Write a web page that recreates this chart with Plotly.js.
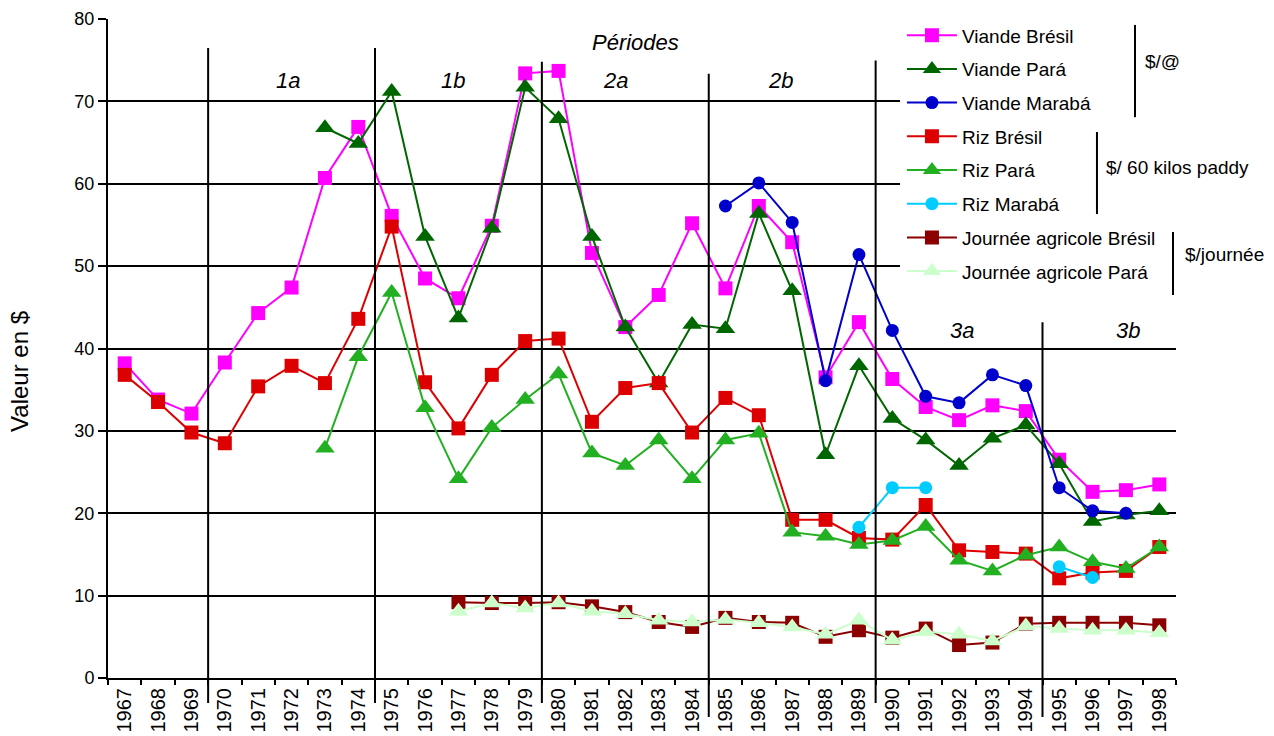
<!DOCTYPE html>
<html>
<head>
<meta charset="utf-8">
<script src="https://cdn.plot.ly/plotly-3.0.1.min.js"></script>
<style>html,body{margin:0;padding:0;background:#fff;}#chart{width:1274px;height:736px;}</style>
</head>
<body>
<div id="chart"></div>
<script>
const years = ['1967','1968','1969','1970','1971','1972','1973','1974','1975','1976','1977','1978','1979','1980','1981','1982','1983','1984','1985','1986','1987','1988','1989','1990','1991','1992','1993','1994','1995','1996','1997','1998'];

const viandeBresil = [38.2,33.8,32.1,38.3,44.3,47.4,60.7,66.9,56.1,48.5,46.1,54.9,73.4,73.7,51.6,42.6,46.5,55.2,47.3,57.3,52.9,36.5,43.2,36.3,32.9,31.3,33.1,32.4,26.5,22.6,22.8,23.5];
const viandePara = [null,null,null,null,null,null,66.8,64.9,71.2,53.6,43.7,54.6,71.7,67.9,53.6,42.6,35.8,42.9,42.4,56.4,47.0,27.1,37.9,31.5,28.9,25.8,29.1,30.7,26.0,19.0,19.8,20.3];
const viandeMaraba = [null,null,null,null,null,null,null,null,null,null,null,null,null,null,null,null,null,null,57.3,60.1,55.3,36.1,51.4,42.2,34.2,33.4,36.8,35.5,23.1,20.3,20.0,null];
const rizBresil = [36.8,33.5,29.8,28.5,35.4,37.9,35.8,43.6,54.8,35.9,30.3,36.8,40.9,41.2,31.1,35.2,35.8,29.8,34.0,31.9,19.2,19.2,17.0,16.8,21.0,15.5,15.3,15.1,12.1,12.8,13.0,15.9];
const rizPara = [null,null,null,null,null,null,27.9,39.0,46.8,32.8,24.2,30.4,33.8,36.9,27.3,25.8,28.9,24.2,28.9,29.7,17.7,17.2,16.2,16.7,18.4,14.3,13.0,14.9,15.9,14.1,13.3,15.9];
const rizMaraba = [null,null,null,null,null,null,null,null,null,null,null,null,null,null,null,null,null,null,null,null,null,null,18.3,23.1,23.1,null,null,null,13.5,12.2,null,null];
const journeeBresil = [null,null,null,null,null,null,null,null,null,null,9.2,9.1,9.1,9.2,8.7,8.0,6.8,6.2,7.3,6.8,6.7,5.0,5.8,4.9,6.0,4.0,4.3,6.6,6.7,6.7,6.7,6.4];
const journeePara = [null,null,null,null,null,null,null,null,null,null,8.1,9.1,8.5,9.1,8.1,7.8,7.0,6.8,7.1,6.7,6.2,5.3,7.0,4.6,5.6,5.3,4.5,6.3,6.0,5.8,5.8,5.5];

const seriesNames = ['Viande Brésil','Viande Pará','Viande Marabá','Riz Brésil','Riz Pará','Riz Marabá','Journée agricole Brésil','Journée agricole Pará'];
const seriesValues = [viandeBresil, viandePara, viandeMaraba, rizBresil, rizPara, rizMaraba, journeeBresil, journeePara];

const periodLabels = ['1a','1b','2a','2b','3a','3b'];
const periodStartYears = ['1970','1975','1980','1985','1990','1995'];
const unitLabels = ['$/@','$/ 60 kilos paddy','$/journée'];

const colors = ['#FF00FF','#006600','#0000CC','#DD0000','#22B022','#00CCFF','#8B0000','#CCFFCC'];
const symbols = ['square','triangle-up','circle','square','triangle-up','circle','square','triangle-up'];
const sizes = [14,17,13,14,17,13,14,17];

const traces = seriesNames.map((name, i) => ({
  type: 'scatter', mode: 'lines+markers', name: name,
  x: years, y: seriesValues[i], connectgaps: false,
  legendgroup: 'g' + i,
  line: {color: colors[i], width: 2},
  marker: {symbol: symbols[i], size: sizes[i], color: colors[i], line: {width: 0}},
  cliponaxis: false
}));

const FONT = '"Liberation Sans", Arial, sans-serif';

// white panel behind the legend (hides grid lines there)
const shapes = [{type: 'rect', xref: 'paper', yref: 'paper', x0: 0.7416, x1: 1.01, y0: 0.5736, y1: 1.01,
  fillcolor: '#fff', line: {width: 0}, layer: 'above'}];
// period separator lines
const lineTops = [0.956, 0.956, 0.935, 0.917, 0.937, 0.540];
const lineBottoms = [-0.038, -0.038, -0.038, -0.059, -0.038, -0.059];
periodStartYears.forEach((yr, i) => shapes.push({
  type: 'line', xref: 'x', yref: 'paper',
  x0: years.indexOf(yr) - 0.5, x1: years.indexOf(yr) - 0.5,
  y0: lineBottoms[i], y1: lineTops[i],
  line: {color: '#000', width: 2}
}));
// unit brackets in legend
const brackets = [[0.9616, 0.991, 0.851], [0.926, 0.8285, 0.704], [0.9972, 0.6768, 0.5812]];
brackets.forEach(b => shapes.push({type: 'line', xref: 'paper', yref: 'paper', x0: b[0], x1: b[0], y0: b[1], y1: b[2], line: {color: '#000', width: 2}}));

const labelX = [4.9, 9.85, 14.7, 19.65, 25.1, 30.05];
const labelY = [72.5, 72.5, 72.5, 72.5, 42.2, 42.2];
const annotations = periodLabels.map((t, i) => ({
  text: t, xref: 'x', yref: 'y', x: labelX[i], y: labelY[i], showarrow: false,
  font: {family: FONT, size: 22, color: '#000', style: 'italic'}
}));
annotations.push({text: 'Périodes', xref: 'x', yref: 'y', x: 15.32, y: 77.2, showarrow: false,
  font: {family: FONT, size: 22, color: '#000', style: 'italic'}});
annotations.push({text: 'Valeur en $', xref: 'paper', yref: 'paper', x: -0.0824, y: 0.466, xanchor: 'center', yanchor: 'middle',
  showarrow: false, textangle: -90, font: {family: FONT, size: 24, color: '#000'}});
const unitPos = [[0.9691, 0.935], [0.9326, 0.7754], [1.0066, 0.6419]];
unitLabels.forEach((t, i) => annotations.push({text: t, xref: 'paper', yref: 'paper', x: unitPos[i][0], y: unitPos[i][1],
  xanchor: 'left', yanchor: 'middle', showarrow: false, font: {family: FONT, size: 19, color: '#000'}}));

const layout = {
  width: 1274, height: 736,
  margin: {l: 108, r: 98, t: 19, b: 58},
  paper_bgcolor: '#fff', plot_bgcolor: '#fff',
  font: {family: FONT, color: '#000'},
  showlegend: true,
  legend: {x: 0.7434, y: 1.004, xanchor: 'left', yanchor: 'top', bgcolor: 'rgba(0,0,0,0)', borderwidth: 0,
    font: {family: FONT, size: 19, color: '#000'}, tracegroupgap: 6, itemwidth: 50, traceorder: 'grouped'},
  xaxis: {type: 'category', range: [-0.5, 31.5], showgrid: false, showline: true, linecolor: '#000', linewidth: 2,
    ticks: 'outside', tickson: 'boundaries', ticklen: 5, tickwidth: 2, tickcolor: '#000', tickangle: -90,
    tickfont: {family: FONT, size: 20, color: '#000'}, fixedrange: true},
  yaxis: {range: [0, 80], dtick: 10, showgrid: true, gridcolor: '#000', gridwidth: 2, zeroline: false,
    showline: true, linecolor: '#000', linewidth: 2, ticks: 'outside', ticklen: 8, tickwidth: 2, tickcolor: '#000',
    tickfont: {family: FONT, size: 18, color: '#000'}, fixedrange: true},
  shapes: shapes,
  annotations: annotations
};

Plotly.newPlot('chart', traces, layout, {displayModeBar: false, staticPlot: true});
</script>
</body>
</html>
